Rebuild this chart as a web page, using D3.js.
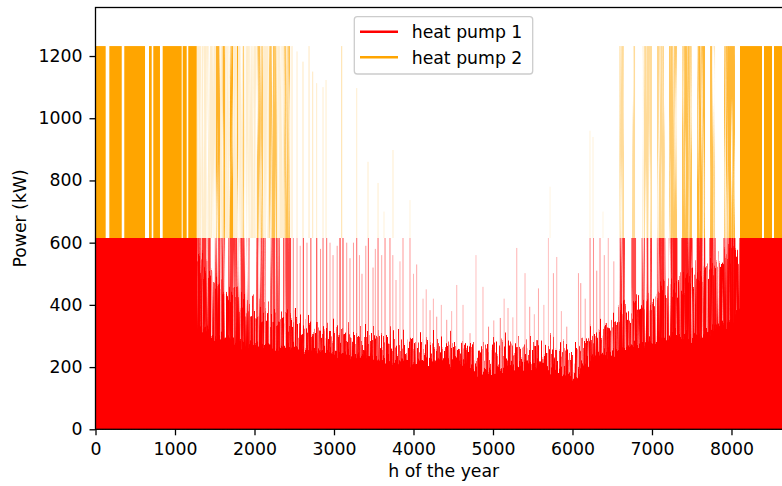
<!DOCTYPE html>
<html>
<head>
<meta charset="utf-8">
<script src="https://cdn.jsdelivr.net/npm/d3@7"></script>
<style>
  body { margin: 0; background: #fff; }
  text { font-family: "DejaVu Sans", sans-serif; }
</style>
</head>
<body>
<div id="chart"></div>
<script>
const baseHours = [0, 250, 500, 750, 1000, 1250, 1500, 1750, 2000, 2250, 2500, 2750,
    3000, 3250, 3500, 3750, 4000, 4250, 4500, 4750, 5000, 5250, 5500, 5750,
    6000, 6250, 6500, 6750, 7000, 7250, 7500, 7750, 8000, 8250, 8500, 8760];
// heat pump 1: level under which the fill is solid, and top of the dense noisy band (kW)
const hp1Solid  = [600, 560, 520, 470, 420, 330, 300, 285, 270, 265, 265, 255,
    250, 240, 230, 220, 215, 225, 225, 200, 190, 205, 210, 205,
    175, 235, 250, 270, 285, 300, 300, 320, 350, 450, 550, 600];
const hp1Dense  = [615, 615, 615, 615, 615, 560, 480, 420, 380, 360, 340, 320,
    310, 300, 300, 280, 270, 280, 270, 250, 260, 260, 265, 260,
    230, 300, 340, 380, 420, 460, 490, 520, 560, 615, 615, 615];

const hp1Max = 615;
const hp2Max = 1232;

// periods with heat pump 1 at full power: [start h, end h, share of hours]
const hp1FullRuns = [
    [0, 1280, 1], [1280, 1450, 0.8], [1500, 1630, 0.85], [1670, 1940, 0.8],
    [2020, 2145, 0.75], [2195, 2320, 0.75], [2360, 2460, 0.75],
    [6588, 6660, 0.8], [6740, 6800, 0.7], [6870, 7000, 0.8], [7060, 7170, 0.85],
    [7210, 7320, 0.9], [7370, 7510, 0.9], [7560, 7670, 0.9], [7720, 7800, 0.9],
    [7900, 8050, 0.95], [8100, 8760, 1]
];
// single peaks of heat pump 1: [hour, kW, share]
const hp1Peaks = [
    [2488, 615, 0.5], [2535, 615, 0.4], [2575, 590, 0.35], [2614, 615, 0.8], [2660, 600, 0.4],
    [2709, 615, 0.7], [2783, 615, 0.8], [2830, 580, 0.4],
    [2862, 615, 0.6], [2908, 615, 0.6], [2950, 600, 0.35], [2988, 560, 0.4], [3040, 590, 0.4],
    [3076, 615, 0.9], [3113, 615, 0.8], [3160, 600, 0.4],
    [3201, 550, 0.4], [3245, 600, 0.4], [3286, 615, 0.6], [3320, 560, 0.35], [3352, 500, 0.4],
    [3400, 590, 0.4], [3432, 615, 0.6], [3491, 520, 0.4], [3520, 580, 0.35],
    [3554, 615, 0.6], [3600, 560, 0.35], [3642, 615, 0.5], [3704, 615, 0.5], [3740, 560, 0.35],
    [3780, 480, 0.35], [3830, 540, 0.3], [3868, 615, 0.4],
    [3956, 615, 0.4], [4000, 500, 0.3], [4040, 530, 0.35], [4120, 420, 0.3], [4160, 450, 0.3],
    [4208, 383, 0.4], [4250, 420, 0.3], [4292, 362, 0.4], [4350, 400, 0.3],
    [4418, 352, 0.4], [4480, 380, 0.3], [4544, 464, 0.3], [4623, 400, 0.3], [4711, 309, 0.4],
    [4786, 560, 0.25], [4874, 458, 0.3], [4944, 330, 0.5], [5010, 350, 0.35], [5092, 358, 0.5],
    [5140, 420, 0.3], [5189, 390, 0.35], [5250, 360, 0.3], [5299, 583, 0.3],
    [5403, 502, 0.3], [5462, 394, 0.4], [5520, 370, 0.3], [5572, 453, 0.35], [5640, 400, 0.3],
    [5697, 615, 0.25], [5760, 502, 0.35], [5802, 554, 0.3], [5860, 380, 0.3], [5928, 330, 0.4],
    [6075, 502, 0.35], [6104, 470, 0.4], [6160, 420, 0.35], [6221, 615, 0.5],
    [6264, 615, 0.45], [6305, 510, 0.4], [6346, 615, 0.45], [6400, 560, 0.35],
    [6450, 615, 0.3], [6520, 540, 0.35]
];

// periods with heat pump 2 running at full power: [start h, end h, share of hours]
const hp2Runs = [
    [0, 128, 1], [174, 330, 1], [362, 623, 1], [673, 707, 1], [727, 811, 1],
    [845, 1084, 1], [1097, 1147, 1], [1167, 1273, 1],
    [1273, 2450, 0.2], [1516, 1566, 0.8], [1600, 1629, 0.8], [1679, 1730, 0.9],
    [1780, 1790, 0.9], [1852, 1862, 0.7], [2032, 2107, 0.6], [2183, 2284, 0.6], [2372, 2447, 0.6],
    [6588, 6648, 0.4], [6749, 6787, 0.4], [6875, 7000, 0.4], [7063, 7164, 0.45],
    [7214, 7315, 0.6], [7378, 7503, 0.7], [7566, 7667, 0.8], [7730, 7793, 0.7],
    [7906, 8044, 0.8], [8107, 8384, 1], [8409, 8510, 1], [8535, 8760, 1]
];
// single peaks of the stacked total with heat pump 2: [hour, kW, share]
const hp2Peaks = [
    [2472, 1232, 0.25], [2535, 1215, 0.2], [2610, 1182, 0.25], [2686, 1232, 0.25],
    [2732, 1150, 0.25], [2782, 1113, 0.2], [2862, 1100, 0.2], [2900, 1123, 0.2],
    [3097, 1232, 0.35], [3286, 1097, 0.2], [3428, 860, 0.2], [3554, 792, 0.2],
    [3629, 700, 0.15], [3742, 898, 0.2], [3956, 737, 0.15], [5718, 780, 0.12],
    [6220, 960, 0.15], [6258, 940, 0.15], [6384, 700, 0.12]
];

const xTicks = [0, 1000, 2000, 3000, 4000, 5000, 6000, 7000, 8000];
const yTicks = [0, 200, 400, 600, 800, 1000, 1200];

const width = 782, height = 486;
const fontSize = 17.3;
const red = "#ff0000", orange = "#ffa500";

const x = d3.scaleLinear().domain([0, 8760]).range([95.5, 791.9]);
const y = d3.scaleLinear().domain([0, 1356]).range([429.3, 7.5]);

const svg = d3.select("#chart").append("svg")
    .attr("width", width)
    .attr("height", height);

const defs = svg.append("defs");

// red layers stay under the heat pump 1 maximum
defs.append("clipPath")
    .attr("id", "hp1clip")
    .append("rect")
    .attr("x", x(0)).attr("y", y(hp1Max))
    .attr("width", x(8760) - x(0)).attr("height", y(0) - y(hp1Max));

function addShift(f, freq, seed) {
    f.append("feTurbulence")
        .attr("type", "fractalNoise")
        .attr("baseFrequency", freq)
        .attr("numOctaves", 1)
        .attr("seed", seed)
        .attr("result", "shift");
    f.append("feColorMatrix")
        .attr("in", "shift")
        .attr("type", "matrix")
        .attr("values", "0 0 0 0 0.5  0 1 0 0 0  0 0 0 0 0  0 0 0 0 1")
        .attr("result", "shiftY");
}

function newFilter(id) {
    return defs.append("filter")
        .attr("id", id)
        .attr("filterUnits", "userSpaceOnUse")
        .attr("x", 0).attr("y", 0).attr("width", width).attr("height", height);
}

// hourly columns are thinner than a pixel, so partly filled columns look streaky
function streakFilter(id, ragged) {
    const f = newFilter(id);
    let src = "SourceGraphic";
    if (ragged) {
        // shift each column up/down a little so the upper edge is not a clean line
        addShift(f, "0.6 0.015", 9);
        f.append("feDisplacementMap")
            .attr("in", "SourceGraphic")
            .attr("in2", "shiftY")
            .attr("scale", ragged)
            .attr("xChannelSelector", "R")
            .attr("yChannelSelector", "G")
            .attr("result", "moved");
        src = "moved";
    }
    f.append("feTurbulence")
        .attr("type", "fractalNoise")
        .attr("baseFrequency", "0.45 0.006")
        .attr("numOctaves", 2)
        .attr("seed", 4)
        .attr("result", "noise");
    f.append("feColorMatrix")
        .attr("in", "noise")
        .attr("type", "matrix")
        .attr("values", "0 0 0 0 0  0 0 0 0 0  0 0 0 0 0  3.2 0 0 0 -0.75")
        .attr("result", "mask");
    f.append("feComposite")
        .attr("in", src)
        .attr("in2", "mask")
        .attr("operator", "in");
}
streakFilter("streaks", 0);
streakFilter("ragged", 70);

const edge = newFilter("edge");
addShift(edge, "0.7 0.02", 2);
edge.append("feDisplacementMap")
    .attr("in", "SourceGraphic")
    .attr("in2", "shiftY")
    .attr("scale", 30)
    .attr("xChannelSelector", "R")
    .attr("yChannelSelector", "G");

const plot = svg.append("g");
const redLayer = plot.append("g").attr("clip-path", "url(#hp1clip)");
const orangeLayer = plot.append("g");

const area = () => d3.area()
    .x((d, i) => x(baseHours[i]))
    .y0(y(0))
    .y1((d) => y(d));

redLayer.append("g")
    .attr("filter", "url(#ragged)")
    .append("path")
    .datum(hp1Dense)
    .attr("fill", red)
    .attr("d", area());

redLayer.append("g")
    .attr("filter", "url(#edge)")
    .append("path")
    .datum(hp1Solid)
    .attr("fill", red)
    .attr("d", area());

// the solid fill always reaches the axis, whatever the edge filter does
redLayer.append("path")
    .datum(hp1Solid.map(v => v - 40))
    .attr("fill", red)
    .attr("d", area());

function runRects(layer, data, lo, hi, color) {
    const g = layer.append("g");
    g.append("g")
        .selectAll("rect")
        .data(data.filter(d => d[2] >= 1))
        .join("rect")
        .attr("x", d => x(d[0]))
        .attr("width", d => Math.max(1, x(d[1]) - x(d[0])))
        .attr("y", y(hi))
        .attr("height", y(lo) - y(hi))
        .attr("fill", color);
    g.append("g")
        .attr("filter", "url(#streaks)")
        .selectAll("rect")
        .data(data.filter(d => d[2] < 1))
        .join("rect")
        .attr("x", d => x(d[0]))
        .attr("width", d => Math.max(1, x(d[1]) - x(d[0])))
        .attr("y", y(hi))
        .attr("height", y(lo) - y(hi))
        .attr("fill", color)
        .attr("fill-opacity", d => d[2]);
}

function peakRects(layer, data, lo, color) {
    layer.append("g")
        .selectAll("rect")
        .data(data)
        .join("rect")
        .attr("x", d => x(d[0]) - 0.5)
        .attr("width", 1)
        .attr("y", d => y(d[1]))
        .attr("height", d => y(lo) - y(d[1]))
        .attr("fill", color)
        .attr("fill-opacity", d => d[2]);
}

runRects(redLayer, hp1FullRuns, 0, hp1Max, red);
peakRects(redLayer, hp1Peaks, 0, red);
runRects(orangeLayer, hp2Runs, hp1Max, hp2Max, orange);
peakRects(orangeLayer, hp2Peaks, hp1Max, orange);

// axes
const xAxis = svg.append("g")
    .attr("transform", `translate(0,${y(0)})`)
    .call(d3.axisBottom(x).tickValues(xTicks).tickSize(6).tickPadding(7).tickFormat(d3.format("d")));
const yAxis = svg.append("g")
    .attr("transform", `translate(${x(0)},0)`)
    .call(d3.axisLeft(y).tickValues(yTicks).tickSize(6).tickPadding(7).tickFormat(d3.format("d")));

[xAxis, yAxis].forEach(a => {
    a.select(".domain").remove();
    a.selectAll("line").attr("stroke", "#000").attr("stroke-width", 1.3);
    a.selectAll("text").attr("font-size", fontSize).attr("fill", "#000")
        .attr("font-family", "DejaVu Sans");
});

// spines (the right one falls outside the picture)
svg.append("rect")
    .attr("x", x(0))
    .attr("y", y(1356))
    .attr("width", x(8760) - x(0))
    .attr("height", y(0) - y(1356))
    .attr("fill", "none")
    .attr("stroke", "#000")
    .attr("stroke-width", 1.3);

svg.append("text")
    .attr("x", (x(0) + x(8760)) / 2)
    .attr("y", 477)
    .attr("text-anchor", "middle")
    .attr("font-size", fontSize)
    .text("h of the year");

svg.append("text")
    .attr("transform", `translate(26,${(y(0) + y(1356)) / 2}) rotate(-90)`)
    .attr("text-anchor", "middle")
    .attr("font-size", fontSize)
    .text("Power (kW)");

// legend
const legend = svg.append("g");
legend.append("rect")
    .attr("x", 354.3).attr("y", 16.7)
    .attr("width", 178.4).attr("height", 57.3)
    .attr("rx", 3)
    .attr("fill", "#fff").attr("fill-opacity", 0.8)
    .attr("stroke", "#cccccc").attr("stroke-width", 1.3);

const items = [["heat pump 1", red], ["heat pump 2", orange]];
items.forEach(([label, color], i) => {
    const ly = 31.7 + i * 25.6;
    legend.append("line")
        .attr("x1", 360).attr("x2", 398)
        .attr("y1", ly).attr("y2", ly)
        .attr("stroke", color).attr("stroke-width", 2.6);
    legend.append("text")
        .attr("x", 411.7).attr("y", ly)
        .attr("dy", "0.36em")
        .attr("font-size", fontSize)
        .text(label);
});
</script>
</body>
</html>
